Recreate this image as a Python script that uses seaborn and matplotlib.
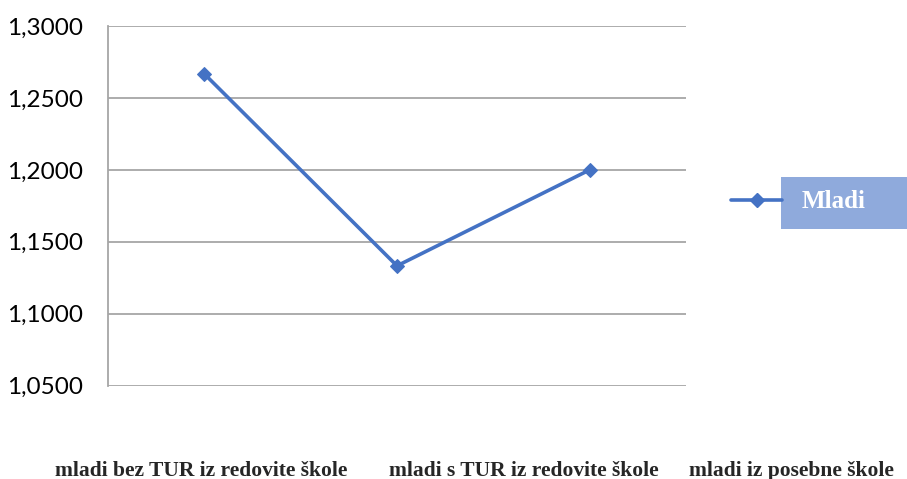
import pandas as pd
import matplotlib.pyplot as plt
import seaborn as sns
from matplotlib.lines import Line2D
from matplotlib.patches import Rectangle
from matplotlib.ticker import FuncFormatter
from matplotlib.transforms import ScaledTranslation

# podaci
kategorije = ['mladi bez TUR iz redovite škole', 'mladi s TUR iz redovite škole', 'mladi iz posebne škole']
vrijednosti = [1.2667, 1.1333, 1.2000]
serija = 'Mladi'
y_ticks = [1.05, 1.10, 1.15, 1.20, 1.25, 1.30]

df = pd.DataFrame({'Kategorija': kategorije, 'Vrijednost': vrijednosti})

sns.set_style('white')
plt.rcParams['font.family'] = ['Lato', 'DejaVu Sans']

W, H = 907, 479
fig = plt.figure(figsize=(W / 100, H / 100), dpi=100)
ax = fig.add_axes([108 / W, (H - 385.7) / H, (686 - 108) / W, (385.7 - 26) / H])

plava = '#4472C4'
siva = '#A6A6A6'

sns.lineplot(data=df, x='Kategorija', y='Vrijednost', ax=ax, color=plava,
             linewidth=2.6, marker='D', markersize=7, markeredgecolor=plava, sort=False)

ax.set_xlim(-0.5, 2.5)
ax.set_ylim(1.05, 1.30)
ax.set_yticks(y_ticks)
ax.yaxis.set_major_formatter(FuncFormatter(lambda v, p: f'{v:.4f}'.replace('.', ',')))
ax.grid(axis='y', color=siva, linewidth=1.3)
ax.set_axisbelow(True)
for s in ['top', 'right', 'bottom']:
    ax.spines[s].set_visible(False)
ax.spines['left'].set_color(siva)
ax.spines['left'].set_linewidth(1.3)

ax.tick_params(axis='y', length=6, width=1.3, color=siva, pad=12, labelsize=17.5, labelcolor='black')
ax.tick_params(axis='x', length=0, pad=54)
ax.set_xticks(range(len(kategorije)))
ax.set_xticklabels(kategorije, family='Liberation Serif', fontweight='bold', fontsize=15.5)
# oznake su u originalu pomaknute udesno (preklapanje)
pomaci = [-3, 127, 202]
for lbl, dx in zip(ax.get_xticklabels(), pomaci):
    lbl.set_transform(lbl.get_transform() + ScaledTranslation(dx / 100, 0, fig.dpi_scale_trans))
ax.set_xlabel('')
ax.set_ylabel('')
if ax.get_legend():
    ax.get_legend().remove()

# legenda
fig.add_artist(Line2D([731 / W, 782 / W], [(H - 200) / H] * 2, color=plava, linewidth=2.6,
                      solid_capstyle='round'))
fig.add_artist(Line2D([757 / W], [(H - 200) / H], color=plava, marker='D', markersize=7))
fig.add_artist(Rectangle((781 / W, (H - 229) / H), (907 - 781) / W, 52 / H,
                         facecolor='#8FAADC', edgecolor='none', transform=fig.transFigure))
fig.text(802 / W, (H - 201) / H, serija, color='white', family='Liberation Serif',
         fontweight='bold', fontsize=18, va='center', ha='left')

plt.savefig('out.png', dpi=100)
